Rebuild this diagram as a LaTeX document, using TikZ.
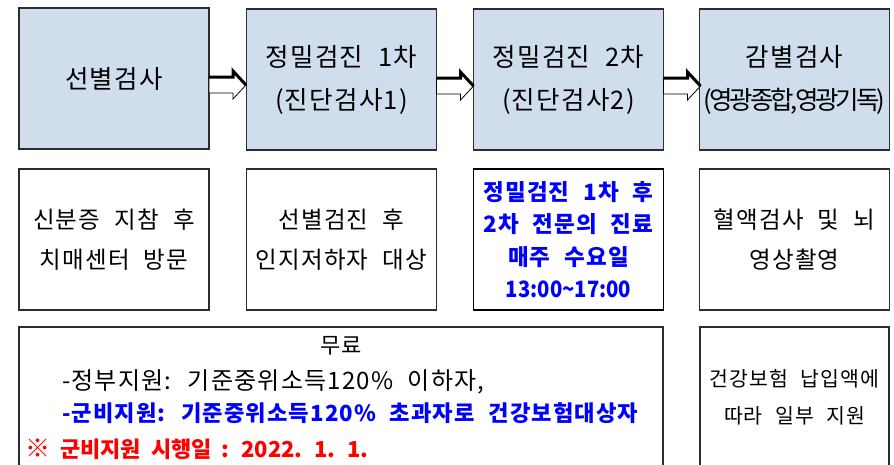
\documentclass[tikz,border=0pt]{standalone}
\usepackage{fontspec}
\usepackage{graphicx}
\setmainfont{Noto Sans CJK KR}[WordSpace=2.2, LetterSpace=5]
\newfontfamily\tightfont{Noto Sans CJK KR}[LetterSpace=-12]
\newfontfamily\plainfont{Noto Sans CJK KR}[WordSpace=2.0]
\usetikzlibrary{calc}
\definecolor{boxfill}{RGB}{207,221,237}
\definecolor{boxline}{RGB}{45,45,45}
\definecolor{kblue}{RGB}{0,0,255}
\definecolor{kred}{RGB}{255,0,0}
\tikzset{
  txt/.style={inner sep=0pt, outer sep=0pt},
  topbox/.style={draw=boxline, line width=1.2pt, fill=boxfill, align=center,
    minimum width=190pt, minimum height=141pt, inner sep=0pt, outer sep=0pt,
    font=\fontsize{25.5}{43}\selectfont},
  midbox/.style={draw=boxline, line width=1.2pt, fill=white, align=center,
    minimum width=190pt, minimum height=141pt, inner sep=0pt, outer sep=0pt,
    font=\fontsize{23.5}{40}\selectfont},
  bluebox/.style={midbox, line width=1.8pt, draw=black, text=kblue,
    font=\bfseries\fontsize{22.5}{32.5}\selectfont},
  lowbox/.style={draw=boxline, line width=1.2pt, fill=white, minimum height=170pt,
    inner sep=0pt, outer sep=0pt},
  flowarrow/.style={fill=white, draw=black, line width=0.8pt, line join=miter},
  flowedge/.style={draw=black, line width=3pt, line cap=butt, line join=miter},
}
\begin{document}
\begin{tikzpicture}[x=1pt,y=-1pt]
\path[use as bounding box] (0,0) rectangle (894,464);
\clip (0,0) rectangle (894,464);
\fill[white] (0,0) rectangle (894,464);

% top row
\node[topbox] (b1) at (114,78.5) {선별검사};
\node[topbox] (b2) at (341.5,79.5) {정밀검진 1차\\(진단검사1)};
\node[topbox] (b3) at (568.5,79.5) {정밀검진 2차\\(진단검사2)};
\node[topbox] (b4) at (794.5,79.5) {감별검사\\{\tightfont (영광종합,영광기독)}};

% middle row
\node[midbox] (m1) at (114,239.5) {신분증 지참 후\\치매센터 방문};
\node[midbox] (m2) at (341.5,239.5) {선별검진 후\\인지저하자 대상};
\node[bluebox] (m3) at (568.5,239.5) {정밀검진 1차 후\\2차 전문의 진료\\매주 수요일\\\scalebox{0.9}[1]{\plainfont\bfseries 13:00{\char"007E}17:00}};
\node[midbox] (m4) at (794.5,239.5) {혈액검사 및 뇌\\영상촬영};

% bottom row
\node[lowbox, minimum width=644pt] (f1) at (341,412) {};
\node[lowbox, minimum width=189pt] (f2) at (794.5,412) {};
\node[txt, font=\fontsize{20.5}{37}\selectfont, align=center] (f2t) at (794.5,397.5) {건강보험 납입액에\\따라 일부 지원};

\node[txt, anchor=base, font=\fontsize{22}{22}\selectfont] (l1) at (341,353) {무료};
\node[txt, anchor=base west, font=\fontsize{24}{22}\selectfont] (l2) at (62,389) {-정부지원: 기준중위소득120\% 이하자,};
\node[txt, anchor=base west, text=kblue, font=\bfseries\fontsize{22.2}{22}\selectfont] (l3) at (62,421) {-군비지원: 기준중위소득120\% 초과자로 건강보험대상자};
\node[txt, anchor=base west, text=kred, font=\plainfont\bfseries\fontsize{22}{22}\selectfont] (l4) at (25,457) {{\fontsize{25}{22}\selectfont ※} 군비지원 시행일 : 2022. 1. 1.};

% block arrows between top boxes
\foreach \a/\b in {b1/b2, b2/b3, b3/b4}{
  \begin{scope}[shift={($(\a.east)+(0,6.5)$)}]
    \draw[flowarrow] (0,-8) -- (24,-8) -- (24,-14) -- (37,0) -- (24,14) -- (24,8) -- (0,8) -- cycle;
    \draw[flowedge] (0,-8) -- (24,-8) -- (24,-14) -- (37,0);
  \end{scope}
}
\end{tikzpicture}
\end{document}
